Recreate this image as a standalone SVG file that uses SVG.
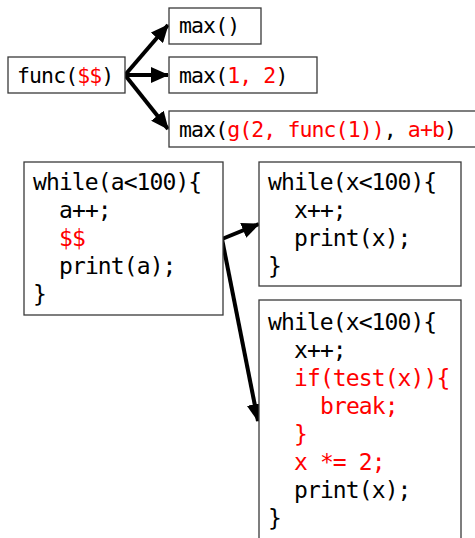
<svg xmlns="http://www.w3.org/2000/svg" width="475" height="538" viewBox="0 0 475 538">
<style>
.box{fill:#fff;stroke:#3a3a3a;stroke-width:1.3}
.t{font-family:"DejaVu Sans Mono","Liberation Mono",monospace;font-size:21.5px;letter-spacing:-0.9px;fill:#000}
.c{font-family:"DejaVu Sans Mono","Liberation Mono",monospace;font-size:23px;letter-spacing:-0.9px;fill:#000}
.r{fill:#ff0000}
.ln{stroke:#000;stroke-width:4;fill:none}
</style>
<defs>
<marker id="ah" markerUnits="userSpaceOnUse" markerWidth="18" markerHeight="16" refX="17" refY="8" orient="auto">
<path d="M0,0 L18,8 L0,16 z" fill="#000"/>
</marker>
</defs>
<rect width="475" height="538" fill="#fff"/>
<g id="connectors">
<line class="ln" x1="125" y1="75" x2="168" y2="25" marker-end="url(#ah)"/>
<line class="ln" x1="125" y1="75" x2="168" y2="75" marker-end="url(#ah)"/>
<line class="ln" x1="125" y1="75" x2="168" y2="129" marker-end="url(#ah)"/>
<polyline class="ln" points="222,239 259,224" marker-end="url(#ah)"/>
<line class="ln" x1="222" y1="239" x2="258" y2="421" marker-end="url(#ah)"/>
</g>
<g id="func">
<rect class="box" x="8" y="57" width="117" height="36"/>
<text class="t" x="17" y="83">func(<tspan class="r">$$</tspan>)</text>
</g>
<g id="max0">
<rect class="box" x="169" y="8" width="92" height="36"/>
<text class="t" x="179" y="33">max()</text>
</g>
<g id="max2">
<rect class="box" x="169" y="57" width="148" height="36"/>
<text class="t" x="179" y="83">max(<tspan class="r">1, 2</tspan>)</text>
</g>
<g id="maxg">
<rect class="box" x="169" y="111" width="310" height="36"/>
<text class="t" x="179" y="137">max(<tspan class="r">g(2, func(1))</tspan>, <tspan class="r">a+b</tspan>)</text>
</g>
<g id="loopA">
<rect class="box" x="24" y="162" width="199" height="153"/>
<text class="c" x="33" y="190">while(a&lt;100){</text>
<text class="c" x="59" y="218">a++;</text>
<text class="c r" x="59" y="246">$$</text>
<text class="c" x="59" y="274">print(a);</text>
<text class="c" x="33" y="302">}</text>
</g>
<g id="loopX1">
<rect class="box" x="259" y="162" width="202" height="124"/>
<text class="c" x="268" y="190">while(x&lt;100){</text>
<text class="c" x="294" y="218">x++;</text>
<text class="c" x="294" y="246">print(x);</text>
<text class="c" x="268" y="274">}</text>
</g>
<g id="loopX2">
<rect class="box" x="259" y="300" width="202" height="245"/>
<text class="c" x="268" y="330">while(x&lt;100){</text>
<text class="c" x="294" y="358">x++;</text>
<text class="c r" x="294" y="386">if(test(x)){</text>
<text class="c r" x="320" y="414">break;</text>
<text class="c r" x="294" y="442">}</text>
<text class="c r" x="294" y="470">x *= 2;</text>
<text class="c" x="294" y="498">print(x);</text>
<text class="c" x="268" y="526">}</text>
</g>
</svg>
